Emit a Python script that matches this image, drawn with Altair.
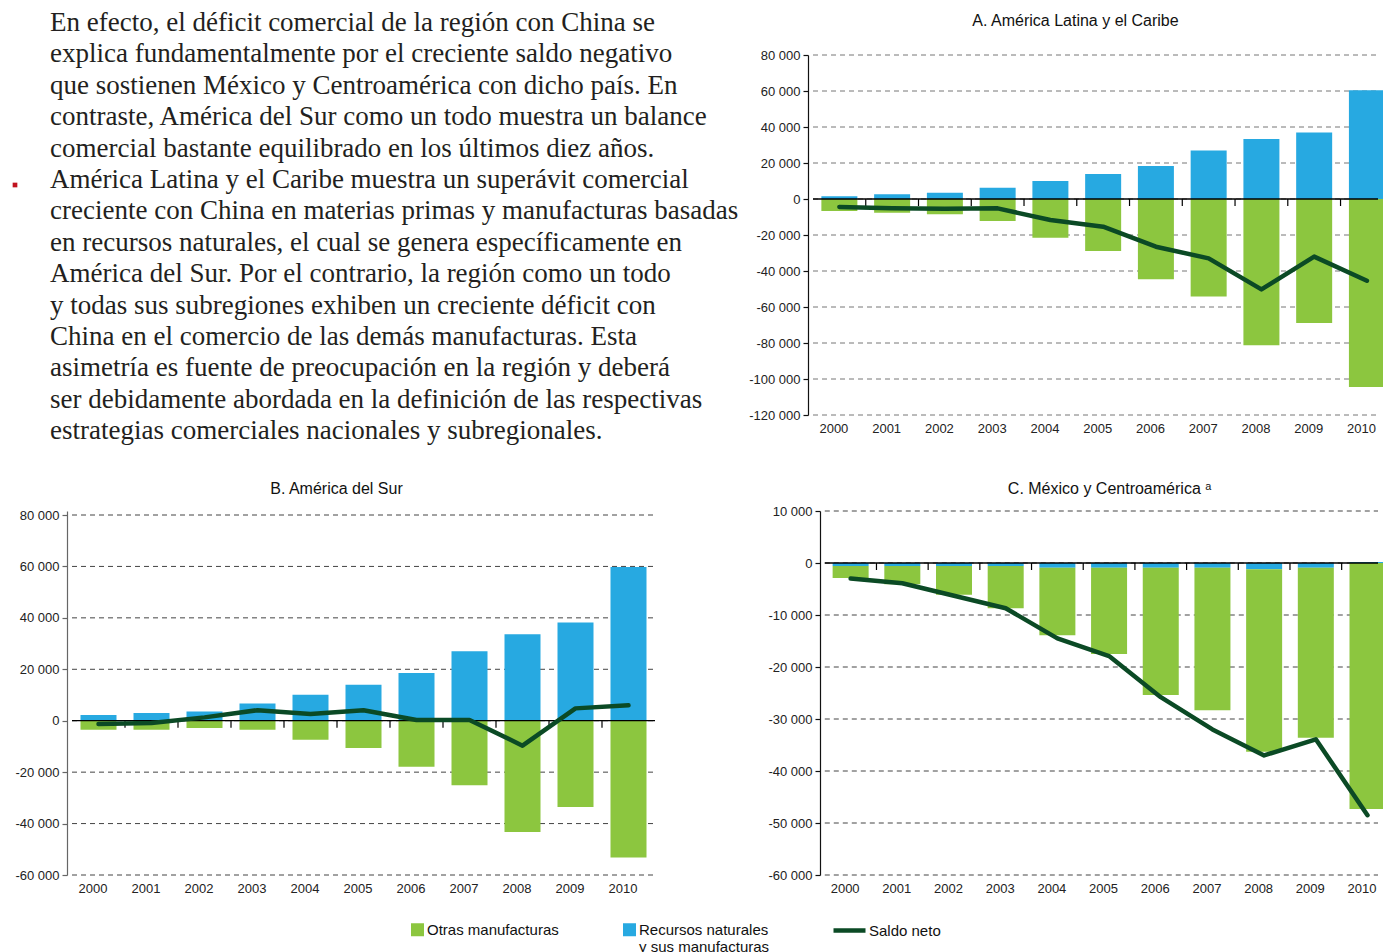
import altair as alt
import pandas as pd

YEARS = list(range(2000, 2011))
SER_OTRAS = "Otras manufacturas"
SER_REC = "Recursos naturales y sus manufacturas"
SER_NETO = "Saldo neto"

TEXT_LINES = [
    "En efecto, el déficit comercial de la región con China se",
    "explica fundamentalmente por el creciente saldo negativo",
    "que sostienen México y Centroamérica con dicho país. En",
    "contraste, América del Sur como un todo muestra un balance",
    "comercial bastante equilibrado en los últimos diez años.",
    "América Latina y el Caribe muestra un superávit comercial",
    "creciente con China en materias primas y manufacturas basadas",
    "en recursos naturales, el cual se genera específicamente en",
    "América del Sur. Por el contrario, la región como un todo",
    "y todas sus subregiones exhiben un creciente déficit con",
    "China en el comercio de las demás manufacturas. Esta",
    "asimetría es fuente de preocupación en la región y deberá",
    "ser debidamente abordada en la definición de las respectivas",
    "estrategias comerciales nacionales y subregionales.",
]
BULLET_LINES = [5]

A_TITLE = "A. América Latina y el Caribe"
A_REC = [1500, 2600, 3500, 6300, 10000, 13900, 18300, 26900, 33300, 37000, 60400]
A_OTRAS = [-6700, -7600, -8500, -12200, -21500, -28900, -44600, -54100, -81300, -68900, -104400]
A_NETO = [-4400, -5200, -5400, -5200, -11700, -15400, -26500, -33000, -50200, -32000, -45400]
A_TICKS = [-120000, -100000, -80000, -60000, -40000, -20000, 0, 20000, 40000, 60000, 80000]

B_TITLE = "B. América del Sur"
B_REC = [2200, 3000, 3600, 6700, 10100, 14000, 18600, 27000, 33600, 38200, 59800]
B_OTRAS = [-3500, -3500, -2800, -3500, -7400, -10600, -17900, -25100, -43300, -33600, -53200]
B_NETO = [-1300, -900, 1300, 4100, 2600, 4100, 300, 300, -9700, 4800, 6000]
B_TICKS = [-60000, -40000, -20000, 0, 20000, 40000, 60000, 80000]

C_TITLE = "C. México y Centroamérica ᵃ"
C_REC = [-600, -600, -600, -600, -900, -900, -900, -900, -1200, -900, 200]
C_OTRAS = [-2300, -3500, -5500, -8100, -13000, -16600, -24500, -27400, -35100, -32700, -47300]
C_NETO = [-3000, -3900, -6300, -8700, -14500, -17900, -25800, -32000, -37000, -33900, -48500]
C_TICKS = [-60000, -50000, -40000, -30000, -20000, -10000, 0, 10000]

GREEN = "#8cc63f"
BLUE = "#27a9e1"
DARK = "#0b4a25"
RED = "#c1121f"
FONT = "Liberation Sans"

bar_legend = alt.Legend(
    title=None, orient="none", legendX=343, legendY=867, direction="horizontal",
    symbolType="square", symbolSize=169, symbolStrokeWidth=0,
    labelFontSize=15, labelFont=FONT, labelColor="#111", labelOffset=2,
    columnPadding=63, padding=0, labelLimit=400,
    labelExpr="datum.label == 'Recursos naturales y sus manufacturas' ? ['Recursos naturales', 'y sus manufacturas'] : [datum.label, '']",
)
line_legend = alt.Legend(
    title=None, orient="none", legendX=764, legendY=857,
    symbolType="stroke", symbolSize=1024, symbolStrokeWidth=4.5,
    labelFontSize=15, labelFont=FONT, labelColor="#111", labelOffset=1, padding=0,
)


def panel(title, rec, otras, neto, yticks, ydom, w, h, xdom, axis_off, dom_color,
          grid_color, title_dx, title_off):
    bars_df = pd.DataFrame({
        "anio": YEARS + YEARS,
        "serie": [SER_REC] * len(YEARS) + [SER_OTRAS] * len(YEARS),
        "valor": rec + otras,
        "orden": [0] * len(YEARS) + [1] * len(YEARS),
    })
    neto_df = pd.DataFrame({"anio": YEARS, "valor": neto, "tipo": [SER_NETO] * len(YEARS)})
    bnd_df = pd.DataFrame({"b": [y + 0.5 for y in YEARS[:-1]]})
    grid_df = pd.DataFrame({"g": yticks})

    xs = alt.Scale(domain=xdom, nice=False, zero=False)
    ys = alt.Scale(domain=ydom, nice=False, zero=False)
    xaxis = alt.Axis(values=YEARS, format="d", domain=False, ticks=False, grid=False,
                     labelOffset=-6, labelPadding=7, title=None, labelFontSize=13,
                     labelColor="#222", labelFont=FONT)
    yaxis = alt.Axis(values=yticks,
                     labelExpr="(datum.value < 0 ? '-' : '') + replace(format(abs(datum.value), ','), ',', ' ')",
                     grid=False, offset=axis_off,
                     domain=True, domainColor=dom_color, domainWidth=1.2,
                     tickColor=dom_color, tickSize=5, tickWidth=1.2, labelPadding=3,
                     title=None, labelFontSize=13, labelColor="#222", labelFont=FONT)
    x0 = 1999.5

    grid = alt.Chart(grid_df).mark_rule(color=grid_color, strokeWidth=1, strokeDash=[5, 4]).encode(
        x=alt.X(datum=x0, scale=xs, axis=xaxis), x2=alt.X2(datum=xdom[1]),
        y=alt.Y("g:Q", scale=ys, axis=yaxis))
    bars = alt.Chart(bars_df).mark_bar(size=36, clip=True, orient="vertical").encode(
        x=alt.X("anio:Q", scale=xs, axis=xaxis),
        y=alt.Y("valor:Q", stack="zero", scale=ys, axis=yaxis),
        color=alt.Color("serie:N", scale=alt.Scale(domain=[SER_OTRAS, SER_REC], range=[GREEN, BLUE]),
                        legend=bar_legend),
        order=alt.Order("orden:Q"),
    )
    zero = alt.Chart(grid_df).transform_filter("datum.g == 0").mark_rule(
        color="black", strokeWidth=1.3).encode(
        x=alt.X(datum=x0, scale=xs, axis=xaxis), x2=alt.X2(datum=xdom[1]),
        y=alt.Y("g:Q", scale=ys, axis=yaxis))
    ticks = alt.Chart(bnd_df).mark_rule(color="black", strokeWidth=1.2, y2Offset=7).encode(
        x=alt.X("b:Q", scale=xs, axis=xaxis),
        y=alt.Y(datum=0, scale=ys, axis=yaxis), y2=alt.Y2(datum=0))
    line = alt.Chart(neto_df).mark_line(strokeWidth=4.5, strokeCap="round", strokeJoin="round").encode(
        x=alt.X("anio:Q", scale=xs, axis=xaxis), y=alt.Y("valor:Q", scale=ys, axis=yaxis),
        stroke=alt.Stroke("tipo:N", scale=alt.Scale(domain=[SER_NETO], range=[DARK]),
                          legend=line_legend),
    )
    return alt.layer(grid, bars, zero, ticks, line).properties(
        width=w, height=h,
        title=alt.TitleParams(text=title, fontSize=16, font=FONT, fontWeight="normal", color="#111",
                              anchor="middle", frame="group", offset=title_off, dx=title_dx),
    )


txt_df = pd.DataFrame({"i": list(range(len(TEXT_LINES))), "t": TEXT_LINES})
bul_df = pd.DataFrame({"i": BULLET_LINES})
ys_txt = alt.Scale(domain=[0, len(TEXT_LINES) - 1], range=[-24, -24 + 31.4 * (len(TEXT_LINES) - 1)])
text = alt.Chart(txt_df).mark_text(align="left", baseline="alphabetic", font="Liberation Serif",
                                   fontSize=27, color="#231f20", dx=-17).encode(
    x=alt.value(0), y=alt.Y("i:Q", scale=ys_txt, axis=None), text="t:N")
bullet = alt.Chart(bul_df).mark_square(size=22, color=RED, opacity=1, yOffset=-3).encode(
    x=alt.value(-52), y=alt.Y("i:Q", scale=ys_txt, axis=None))
T = alt.layer(text, bullet).properties(width=593, height=360)

A = panel(A_TITLE, A_REC, A_OTRAS, A_NETO, A_TICKS, [-120000, 80000], 575, 360,
          [1999.5, 2010.21], 0, "#111", "#777", -20, 20)
B = panel(B_TITLE, B_REC, B_OTRAS, B_NETO, B_TICKS, [-60000, 81556], 593, 364,
          [1999.5, 2010.5], 0, "#666", "#444", -27, 12)
C = panel(C_TITLE, C_REC, C_OTRAS, C_NETO, C_TICKS, [-60000, 10000], 575, 364,
          [1999.272, 2010.203], -12, "#111", "#444", 14, 8)

chart = alt.concat(T, A, B, C, columns=2, spacing=alt.RowColnumber(row=92, column=148),
                   bounds="flush", align="all").properties(
    padding={"left": 4, "top": 1, "right": 0, "bottom": 0}
).configure(font=FONT).configure_view(stroke=None, strokeWidth=0)

chart.save("out.html", embed_options={"renderer": "svg", "actions": False})
